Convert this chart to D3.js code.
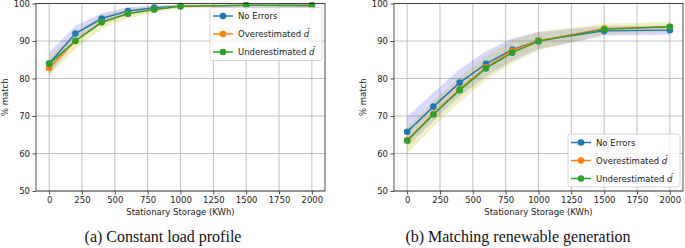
<!DOCTYPE html>
<html>
<head>
<meta charset="utf-8">
<script src="https://cdn.jsdelivr.net/npm/d3@7"></script>
<style>
  body { margin: 0; background: #fff; }
</style>
</head>
<body>
<div id="chart"></div>
<script>
// storage sizes (x) and axis ticks
const storage = [0, 200, 400, 600, 800, 1000, 1500, 2000];
const xTicks = [0, 250, 500, 750, 1000, 1250, 1500, 1750, 2000];
const yTicks = [50, 60, 70, 80, 90, 100];

// (a) constant load profile
const constNoErr = [84, 92, 96, 98, 98.9, 99.3, 99.5, 99.5];
const constOver = [82.8, 90, 95, 97.3, 98.4, 99.3, 99.5, 99.5];
const constUnder = [83.9, 90, 95, 97.3, 98.4, 99.3, 99.5, 99.5];
const constNoErrSd = [3, 2, 1.5, 1, 0.6, 0.4, 0.3, 0.3];
const constErrSd = [2.6, 2, 1.8, 1.3, 0.8, 0.5, 0.3, 0.3];

// (b) matching renewable generation
const renewNoErr = [65.8, 72.5, 78.9, 83.9, 87.7, 90.1, 92.7, 92.9];
const renewOver = [63.6, 70.6, 77.2, 83, 87.4, 90.1, 93.3, 93.8];
const renewUnder = [63.4, 70.4, 76.9, 82.7, 86.9, 89.9, 93.1, 93.8];
const renewNoErrSd = [4, 3.8, 3.6, 3.4, 3, 2.3, 1.3, 1.2];
const renewErrSd = [3.5, 3.4, 3.3, 3.2, 3, 2.5, 1.4, 1.3];

const seriesNames = ["No Errors", "Overestimated", "Underestimated"];
const colors = ["#1f77b4", "#ff7f0e", "#2ca02c"];

const svg = d3.select("#chart").append("svg")
    .attr("width", 685)
    .attr("height", 248)
    .style("display", "block")
    .style("font-family", "DejaVu Sans, sans-serif");

svg.append("rect").attr("width", 685).attr("height", 248).attr("fill", "#fff");

function drawPanel(left, right, series, bands, legendPos, caption, captionX) {
    let top = 3.5, bottom = 191;

    let x = d3.scaleLinear().domain([-100, 2100]).range([left, right]);
    let y = d3.scaleLinear().domain([50, 100]).range([bottom, top]);

    let g = svg.append("g");

    // grid
    g.selectAll(".vgrid").data(xTicks).enter().append("line")
        .attr("x1", d => x(d)).attr("x2", d => x(d))
        .attr("y1", top).attr("y2", bottom)
        .attr("stroke", "#b0b0b0").attr("stroke-width", 0.8);
    g.selectAll(".hgrid").data(yTicks).enter().append("line")
        .attr("x1", left).attr("x2", right)
        .attr("y1", d => y(d)).attr("y2", d => y(d))
        .attr("stroke", "#b0b0b0").attr("stroke-width", 0.8);

    // error bands
    let area = d3.area()
        .x((d, i) => x(storage[i]))
        .y0(d => y(d[0] - d[1]))
        .y1(d => y(d[0] + d[1]));
    let bandFill = ["#0000ff", "#bfbf00", "#bfbf00"];
    let bandOpacity = [0.15, 0.12, 0.12];
    bands.forEach((b, k) => {
        g.append("path")
            .datum(series[k].map((v, i) => [v, b[i]]))
            .attr("d", area)
            .attr("fill", bandFill[k])
            .attr("fill-opacity", bandOpacity[k]);
    });

    // lines and markers
    let line = d3.line().x((d, i) => x(storage[i])).y(d => y(d));
    series.forEach((s, k) => {
        g.append("path").datum(s)
            .attr("d", line)
            .attr("fill", "none")
            .attr("stroke", colors[k])
            .attr("stroke-width", 1.5);
        g.selectAll(".pt" + k).data(s).enter().append("circle")
            .attr("cx", (d, i) => x(storage[i]))
            .attr("cy", d => y(d))
            .attr("r", 3.3)
            .attr("fill", colors[k]);
    });

    // frame
    g.append("rect")
        .attr("x", left).attr("y", top)
        .attr("width", right - left).attr("height", bottom - top)
        .attr("fill", "none").attr("stroke", "#222").attr("stroke-width", 0.8);

    // axes
    let xAxis = d3.axisBottom(x).tickValues(xTicks).tickFormat(d3.format("d"))
        .tickSize(3.5).tickPadding(2.5);
    let ax = g.append("g").attr("transform", `translate(0,${bottom})`).call(xAxis);
    let yAxis = d3.axisLeft(y).tickValues(yTicks).tickFormat(d3.format("d"))
        .tickSize(3.5).tickPadding(2.5);
    let ay = g.append("g").attr("transform", `translate(${left},0)`).call(yAxis);
    [ax, ay].forEach(a => {
        a.attr("font-family", null).attr("font-size", null);
        a.select(".domain").remove();
        a.selectAll("line").attr("stroke", "#222").attr("stroke-width", 0.8);
        a.selectAll("text").attr("font-size", 8.5).attr("fill", "#222");
    });

    g.append("text")
        .attr("x", (left + right) / 2).attr("y", 215)
        .attr("text-anchor", "middle")
        .attr("font-size", 8.5).attr("fill", "#222")
        .text("Stationary Storage (KWh)");
    g.append("text")
        .attr("transform", `translate(${left - 28},${(top + bottom) / 2}) rotate(-90)`)
        .attr("text-anchor", "middle")
        .attr("font-size", 8.5).attr("fill", "#222")
        .text("% match");

    // legend
    let lg = g.append("g").attr("transform", `translate(${legendPos[0]},${legendPos[1]})`);
    lg.append("rect")
        .attr("width", 112).attr("height", 53).attr("rx", 2)
        .attr("fill", "#fff").attr("fill-opacity", 0.8)
        .attr("stroke", "#ccc").attr("stroke-width", 0.8);
    seriesNames.forEach((name, k) => {
        let ry = 8.5 + k * 18;
        lg.append("line")
            .attr("x1", 3).attr("x2", 23).attr("y1", ry).attr("y2", ry)
            .attr("stroke", colors[k]).attr("stroke-width", 1.5);
        lg.append("circle").attr("cx", 13).attr("cy", ry).attr("r", 3.3).attr("fill", colors[k]);
        let t = lg.append("text")
            .attr("x", 28).attr("y", ry + 3)
            .attr("font-size", 8.5).attr("fill", "#222")
            .text(name);
        if (k > 0) {
            t.append("tspan").text(" ");
            t.append("tspan").attr("font-style", "italic").text("d\u0302");
        }
    });

    // caption
    svg.append("text")
        .attr("x", captionX).attr("y", 242)
        .attr("text-anchor", "middle")
        .style("font-family", "'Liberation Serif', 'DejaVu Serif', serif")
        .attr("font-size", 16).attr("fill", "#111")
        .text(caption);
}

drawPanel(36, 325,
    [constNoErr, constOver, constUnder],
    [constNoErrSd, constErrSd, constErrSd],
    [210, 7.5], "(a) Constant load profile", 163);

drawPanel(394, 683,
    [renewNoErr, renewOver, renewUnder],
    [renewNoErrSd, renewErrSd, renewErrSd],
    [568, 134], "(b) Matching renewable generation", 518);
</script>
</body>
</html>
